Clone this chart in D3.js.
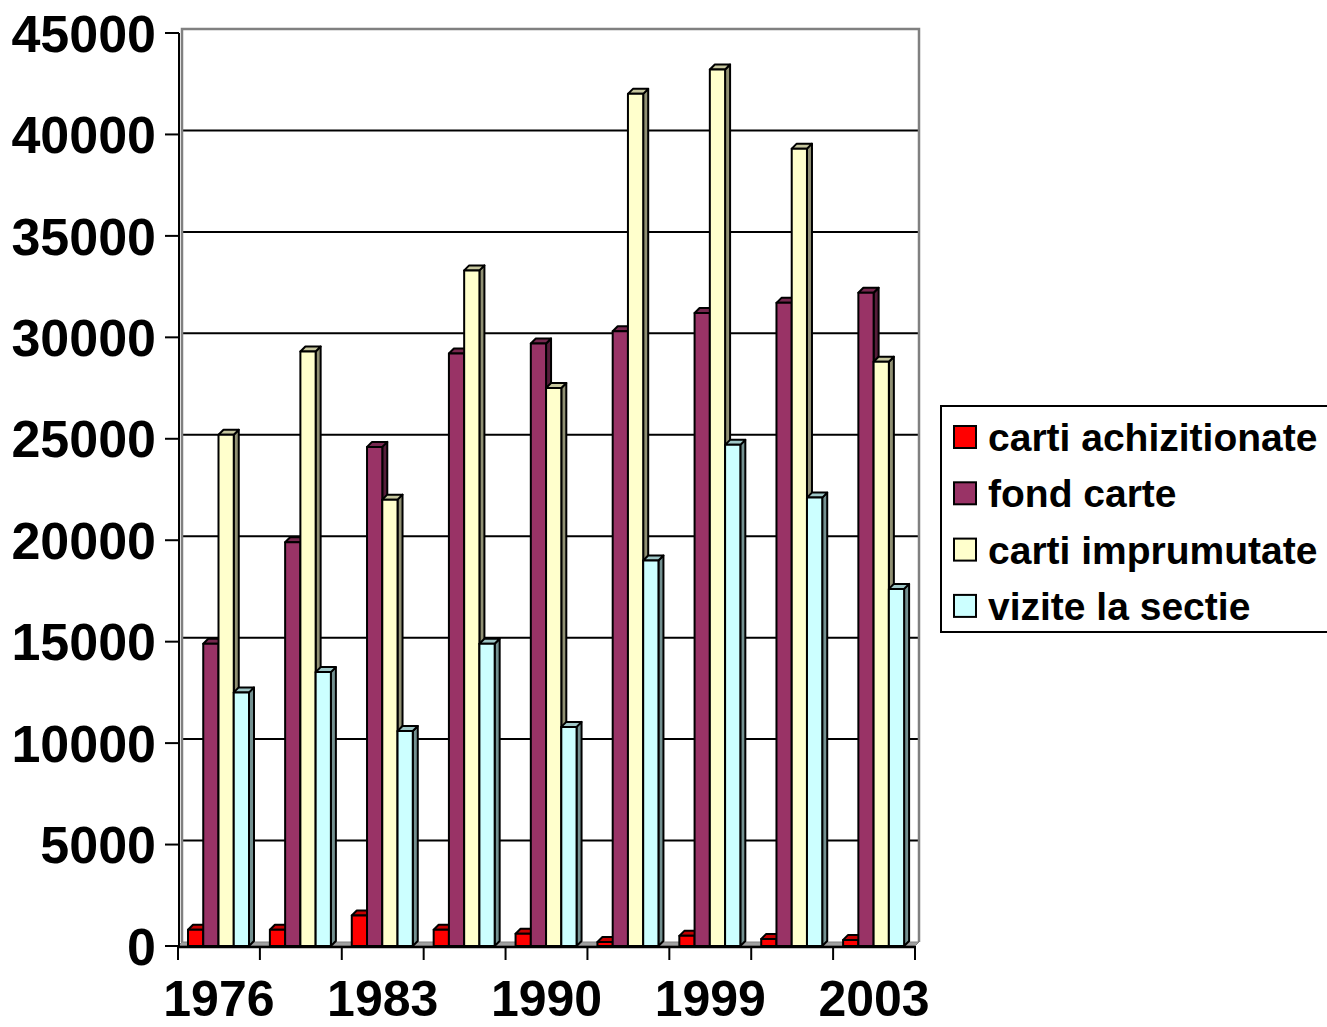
<!DOCTYPE html>
<html><head><meta charset="utf-8">
<script src="https://cdn.jsdelivr.net/npm/d3@7"></script>
<style>html,body{margin:0;padding:0;background:#fff;}svg{display:block;}</style>
</head><body>
<script>
// ---- data ----
const categories = ["1976","1980","1983","1986","1990","1995","1999","2001","2003"];
const shownLabels = ["1976","","1983","","1990","","1999","","2003"];
const seriesNames = ["carti achizitionate","fond carte","carti imprumutate","vizite la sectie"];
const cartiAchizitionate = [800, 800, 1500, 800, 600, 200, 500, 350, 300];
const fondCarte = [14900, 19900, 24600, 29200, 29700, 30300, 31200, 31700, 32200];
const cartiImprumutate = [25200, 29300, 22000, 33300, 27500, 42000, 43200, 39300, 28800];
const viziteLaSectie = [12500, 13500, 10600, 14900, 10800, 19000, 24700, 22100, 17600];
const yTicks = [0,5000,10000,15000,20000,25000,30000,35000,40000,45000];
const seriesColors = ["#FF0000","#993366","#FFFFCC","#CCFFFF"];
const seriesValues = [cartiAchizitionate, fondCarte, cartiImprumutate, viziteLaSectie];

const W = 1327, H = 1027;
const svg = d3.select("body").append("svg").attr("width", W).attr("height", H);
const font = "'Liberation Sans', Arial, sans-serif";

const x0 = d3.scaleBand().domain(d3.range(categories.length)).range([178, 915]).padding(0);
const x1 = d3.scaleBand().domain(d3.range(seriesNames.length)).range([10, 71]).padding(0);
const y = d3.scaleLinear().domain([0, 45000]).range([946, 33]);
const DX = 4, DY = -4; // wall depth
const BD = 5; // bar depth

const wallL = x0.range()[0] + DX, wallR = x0.range()[1] + DX;
const wallTop = y(45000) + DY, wallBot = y(0) + DY;
// floor
svg.append("path")
  .attr("d", `M${x0.range()[0]},${y(0)} L${x0.range()[1]},${y(0)} L${wallR},${wallBot} L${wallL},${wallBot} Z`)
  .attr("fill", "#a0a0a0").attr("stroke", "#808080").attr("stroke-width", 1);
// gridlines
svg.append("g").selectAll("line").data(yTicks.filter(t => t > 0 && t < 45000)).join("line")
  .attr("x1", wallL).attr("x2", wallR)
  .attr("y1", d => y(d) + DY).attr("y2", d => y(d) + DY)
  .attr("stroke", "#000").attr("stroke-width", 2);
svg.append("path")
  .attr("d", `M${wallL},${wallBot} L${wallL},${wallTop} L${wallR},${wallTop} L${wallR},${wallBot}`)
  .attr("fill", "none").attr("stroke", "#808080").attr("stroke-width", 2.5);

// bars
const bars = svg.append("g");
categories.forEach((c, ci) => {
  seriesNames.forEach((s, si) => {
    const v = seriesValues[si][ci];
    const col = d3.color(seriesColors[si]);
    const bx = x0(ci) + x1(si), bw = x1.bandwidth();
    const yt = y(v), yb = y(0);
    const g = bars.append("g").attr("stroke", "#000").attr("stroke-width", 2).attr("stroke-linejoin", "round");
    g.append("path")
      .attr("d", `M${bx+bw},${yb} L${bx+bw},${yt} L${bx+bw+BD},${yt-BD} L${bx+bw+BD},${yb-BD} Z`)
      .attr("fill", col.darker(1.6));
    g.append("path")
      .attr("d", `M${bx},${yt} L${bx+BD},${yt-BD} L${bx+bw+BD},${yt-BD} L${bx+bw},${yt} Z`)
      .attr("fill", col.darker(0.7));
    g.append("rect").attr("x", bx).attr("y", yt).attr("width", bw).attr("height", yb - yt)
      .attr("fill", col.formatHex());
  });
});

// y axis
const yAxis = svg.append("g");
yAxis.append("line").attr("x1", 179).attr("x2", 179).attr("y1", y(45000)).attr("y2", y(0) + 2)
  .attr("stroke", "#000").attr("stroke-width", 2);
yAxis.selectAll(".tk").data(yTicks).join("line")
  .attr("x1", 165).attr("x2", 179).attr("y1", d => y(d)).attr("y2", d => y(d))
  .attr("stroke", "#000").attr("stroke-width", 2);
yAxis.selectAll("text").data(yTicks).join("text")
  .attr("x", 156).attr("y", d => y(d)).attr("dy", "0.36em")
  .attr("text-anchor", "end").attr("font-family", font).attr("font-weight", "bold")
  .attr("font-size", 52).text(d => d);

// x axis
const xAxis = svg.append("g");
xAxis.append("line").attr("x1", 178).attr("x2", 915).attr("y1", y(0) + 1).attr("y2", y(0) + 1)
  .attr("stroke", "#000").attr("stroke-width", 2.5);
const xTickPos = d3.range(categories.length + 1).map(i => i < categories.length ? x0(i) : x0(i - 1) + x0.bandwidth());
xAxis.selectAll(".tk").data(xTickPos).join("line")
  .attr("x1", d => d).attr("x2", d => d).attr("y1", y(0)).attr("y2", y(0) + 14)
  .attr("stroke", "#000").attr("stroke-width", 2);
xAxis.selectAll("text").data(shownLabels.map((l, i) => ({l, i})).filter(d => d.l)).join("text")
  .attr("x", d => x0(d.i) + x0.bandwidth() / 2).attr("y", 1016)
  .attr("text-anchor", "middle").attr("font-family", font).attr("font-weight", "bold")
  .attr("font-size", 50).text(d => d.l);

// legend
const lg = svg.append("g");
lg.append("rect").attr("x", 941).attr("y", 406).attr("width", 400).attr("height", 226)
  .attr("fill", "#fff").attr("stroke", "#000").attr("stroke-width", 2);
seriesNames.forEach((s, i) => {
  const cy = 437 + i * 56.3;
  lg.append("rect").attr("x", 954).attr("y", cy - 11).attr("width", 22).attr("height", 22)
    .attr("fill", seriesColors[i]).attr("stroke", "#000").attr("stroke-width", 2);
  lg.append("text").attr("x", 988).attr("y", cy).attr("dy", "0.36em")
    .attr("font-family", font).attr("font-weight", "bold").attr("font-size", 39).text(s);
});
</script>
</body></html>
